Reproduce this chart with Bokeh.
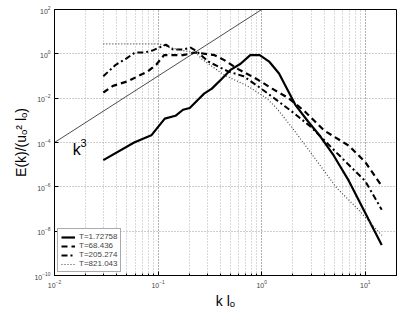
from bokeh.plotting import figure
from bokeh.models import FixedTicker, Label, Legend, LegendItem
from bokeh.embed import file_html
from bokeh.resources import INLINE

# ---- data ----
k_a = [0.0296, 0.0587, 0.086, 0.116, 0.147, 0.174, 0.202, 0.24, 0.278, 0.33, 0.408, 0.505,
       0.625, 0.775, 0.958, 1.19, 1.47, 2.11, 2.78, 3.67, 4.95, 6.96, 10.7, 14.4]
E_a = [1.6e-5, 1.0e-4, 2.1e-4, 1.2e-3, 1.6e-3, 3.0e-3, 3.6e-3, 8.1e-3, 1.6e-2, 2.7e-2, 7.2e-2, 0.195,
       0.355, 0.87, 0.87, 0.43, 0.13, 5.0e-3, 9.3e-4, 1.9e-4, 2.6e-5, 1.8e-6, 3.5e-8, 2.4e-9]

k_b = [0.0296, 0.0367, 0.0516, 0.064, 0.079, 0.0958, 0.114, 0.14, 0.174, 0.23, 0.352, 0.435,
       0.587, 0.90, 1.26, 1.82, 2.61, 4.0, 6.96, 10.0, 14.4]
E_b = [1.8e-2, 3.6e-2, 5.9e-2, 9.8e-2, 0.16, 0.32, 0.87, 0.87, 0.87, 1.15, 0.87, 0.52,
       0.21, 7.2e-2, 2.7e-2, 1.0e-2, 2.5e-3, 3.5e-4, 7.1e-5, 1.3e-5, 1.1e-6]

k_c = [0.0296, 0.039, 0.0484, 0.06, 0.074, 0.088, 0.119, 0.14, 0.174, 0.206, 0.23, 0.31,
       0.474, 0.667, 0.958, 1.47, 2.11, 2.97, 4.0, 5.27, 10.0, 14.4]
E_c = [9.8e-2, 0.32, 0.58, 1.15, 1.15, 1.4, 2.6, 1.55, 1.55, 1.9, 1.4, 0.43,
       0.16, 9.8e-2, 3.0e-2, 6.8e-3, 1.9e-3, 5.1e-4, 1.3e-4, 3.5e-5, 1.8e-6, 9.3e-8]

k_d = [0.0296, 0.102, 0.132, 0.174, 0.23, 0.267, 0.435, 0.726, 1.11, 1.38, 1.94, 2.97, 5.27, 8.6, 14.4]
E_d = [2.8, 2.8, 1.9, 1.4, 1.15, 0.56, 0.11, 3.6e-2, 1.0e-2, 3.7e-3, 5.1e-4, 3.5e-5, 9.1e-7, 9.3e-8, 6.5e-9]

k_ref = [0.01, 1.0]
E_ref = [1e-4, 1e2]   # E = 100 k^3

labels = ["T=1.72758", "T=68.436", "T=205.274", "T=821.043"]
y_ticks = [1e-10, 1e-8, 1e-6, 1e-4, 1e-2, 1e0, 1e2]

FONT = "Liberation Sans"

p = figure(width=399, height=311, x_axis_type="log", y_axis_type="log",
           x_range=(0.01, 20), y_range=(1e-10, 1e2),
           output_backend="svg", toolbar_location=None,
           min_border_left=54, min_border_right=3, min_border_top=9, min_border_bottom=33)

p.outline_line_color = "black"
p.outline_line_width = 1
p.background_fill_color = "white"
p.border_fill_color = "white"

p.yaxis.ticker = FixedTicker(ticks=y_ticks, minor_ticks=[])

for ax in (p.xaxis[0], p.yaxis[0]):
    ax.axis_line_color = "black"
    ax.major_tick_in = 4
    ax.major_tick_out = 0
    ax.minor_tick_in = 2
    ax.minor_tick_out = 0
    ax.major_label_text_font = FONT
    ax.major_label_text_font_size = "7px"
    ax.major_label_text_color = "#444444"
    ax.axis_label_text_font = FONT
    ax.axis_label_text_font_style = "normal"
    ax.axis_label_text_font_size = "14px"
    ax.axis_label_text_color = "black"
    ax.major_label_standoff = 4
    ax.axis_label_standoff = 2

p.xaxis.axis_label = "k lₒ"
p.yaxis.axis_label = "E(k)/(uₒ² lₒ)"

for g in (p.xgrid[0], p.ygrid[0]):
    g.grid_line_color = "#9a9a9a"
    g.grid_line_dash = "1 2"
    g.grid_line_width = 1
p.xgrid.minor_grid_line_color = "#b5b5b5"
p.xgrid.minor_grid_line_dash = "1 2"

p.line(k_ref, E_ref, line_color="black", line_width=0.7)

ra = p.line(k_a, E_a, line_color="black", line_width=2.2)
rb = p.line(k_b, E_b, line_color="black", line_width=2.2, line_dash="6 4")
rc = p.line(k_c, E_c, line_color="black", line_width=2.0, line_dash="6 3 2 3")
rd = p.line(k_d, E_d, line_color="#444444", line_width=1.2, line_dash="1 2")

p.add_layout(Label(x=0.015, y=5.0e-5, text="k", text_font=FONT, text_font_size="16px",
                   text_color="black", text_baseline="alphabetic"))
p.add_layout(Label(x=0.0178, y=1.0e-4, text="3", text_font=FONT, text_font_size="11px",
                   text_color="black", text_baseline="alphabetic"))

legend = Legend(items=[LegendItem(label=labels[0], renderers=[ra]),
                       LegendItem(label=labels[1], renderers=[rb]),
                       LegendItem(label=labels[2], renderers=[rc]),
                       LegendItem(label=labels[3], renderers=[rd])],
                location="bottom_left")
legend.label_text_font = FONT
legend.label_text_font_size = "8px"
legend.label_height = 8
legend.glyph_height = 8
legend.glyph_width = 14
legend.spacing = 0
legend.padding = 3
legend.margin = 3
legend.label_standoff = 4
legend.border_line_color = "#555555"
legend.border_line_width = 1.5
legend.background_fill_alpha = 1
p.add_layout(legend)

open("out.html", "w").write(file_html(p, INLINE))
